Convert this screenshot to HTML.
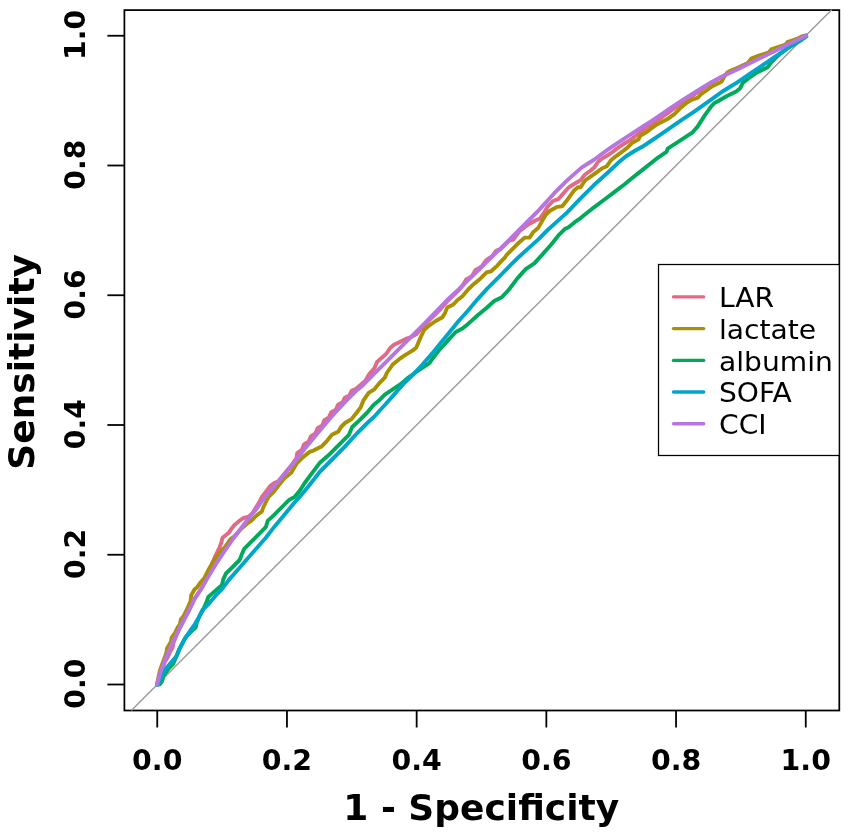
<!DOCTYPE html>
<html><head><meta charset="utf-8"><title>ROC curves</title>
<style>
html,body{margin:0;padding:0;background:#fff;}
body{width:851px;height:839px;overflow:hidden;}
svg{display:block;}
text{font-family:"DejaVu Sans","Liberation Sans",sans-serif;fill:#000;}
.b{font-weight:bold;}
</style></head><body>
<svg width="851" height="839" viewBox="0 0 851 839">
<rect x="0" y="0" width="851" height="839" fill="#fff"/>
<rect x="124.4" y="10.1" width="714.9" height="700.4" fill="none" stroke="#000" stroke-width="1.75"/>
<line x1="131.31" y1="710.45" x2="831.69" y2="9.80" stroke="#9a9a9a" stroke-width="1.4"/>
<polyline points="157.1,684.4 160.8,672.5 164.8,662.0 167.8,657.0 170.5,651.0 172.6,647.5 173.2,644.0 174.5,640.0 178.6,630.5 183.4,621.0 189.0,610.5 194.6,599.0 201.3,589.0 205.0,582.0 209.0,573.0 212.0,563.9 214.7,557.4 219.3,548.2 221.2,542.9 222.5,537.7 229.1,532.4 231.1,529.2 234.3,525.2 239.6,520.6 243.5,518.0 248.8,516.7 252.7,512.8 256.0,507.5 259.2,502.3 261.9,497.0 265.8,491.8 269.7,486.6 273.7,483.3 278.1,481.4 291.2,465.6 296.5,458.2 297.2,453.2 301.8,449.9 304.0,444.5 308.6,441.6 310.8,436.4 315.4,433.5 317.6,428.2 322.2,425.4 324.4,420.1 329.0,417.3 331.2,412.3 335.8,409.8 338.0,404.8 342.6,402.3 344.8,397.7 349.4,395.4 351.6,390.8 356.2,388.7 359.9,385.5 365.2,380.9 369.1,374.3 374.3,368.4 377.0,361.9 380.9,358.6 386.1,354.0 390.1,348.1 394.0,344.8 399.2,342.2 405.8,338.9 411.0,337.0 416.3,334.3 426.8,322.5 440.5,309.0 449.1,299.3 458.6,290.3 463.0,285.0 466.0,279.6 468.5,278.3 472.0,275.9 475.5,270.0 478.0,268.8 482.0,266.0 486.0,260.3 488.0,259.0 492.0,256.5 496.0,251.0 498.0,249.9 500.0,249.5 509.5,240.5 513.3,239.6 519.1,231.5 528.6,224.3 535.3,220.5 540.0,218.6 543.9,212.9 547.8,206.3 553.0,201.0 558.3,199.1 563.5,193.2 568.8,187.3 574.0,184.0 580.6,180.1 585.0,174.5 590.7,170.5 594.5,167.2 598.3,161.5 601.2,159.1 606.9,155.8 612.6,151.9 617.4,148.1 623.1,144.3 627.9,141.5 632.7,138.1 636.5,135.3 642.2,130.5 651.7,124.3 661.3,117.6 674.1,108.3 683.6,102.0 693.1,95.5 702.7,88.6 712.2,82.2 721.7,76.9 731.3,71.4 736.2,68.8 743.0,65.2 749.3,62.6 756.0,59.2 762.4,56.6 775.6,50.4 788.7,43.6 797.0,39.2 801.8,37.2 805.9,35.6" fill="none" stroke="#E16A86" stroke-width="3.9" stroke-linejoin="round" stroke-linecap="round"/>
<polyline points="157.0,684.3 159.8,671.0 162.4,663.4 166.4,652.9 167.0,648.5 171.1,641.5 171.6,637.6 175.1,632.9 177.8,627.2 179.9,624.3 180.8,619.5 183.8,615.7 186.7,610.0 190.6,601.0 191.3,595.1 194.6,589.2 197.2,587.2 200.2,582.8 204.2,578.3 208.1,570.5 213.4,561.3 219.9,552.1 225.2,546.9 230.4,539.0 234.3,536.4 241.0,529.0 247.4,523.3 251.4,520.6 256.6,515.4 261.9,511.5 263.2,507.5 268.4,497.0 273.7,491.8 278.1,486.0 284.7,478.1 291.2,472.8 296.5,463.7 303.0,457.1 309.6,451.9 313.5,450.6 321.4,446.6 326.6,441.4 331.9,434.8 338.4,431.5 341.0,427.0 345.0,423.0 351.5,419.1 356.8,412.5 360.7,407.3 363.3,400.7 368.6,392.9 374.3,389.4 379.6,382.8 384.8,377.6 386.8,373.0 392.7,364.5 399.2,359.2 405.8,354.7 412.4,350.7 416.3,347.4 420.2,338.3 424.2,329.7 430.0,324.8 435.7,321.0 442.4,317.2 445.3,312.4 447.2,307.6 452.9,304.8 457.6,300.0 462.4,296.2 468.1,289.5 472.9,284.8 480.3,278.7 486.9,272.1 490.8,271.5 497.4,265.6 500.0,262.5 504.8,257.7 506.7,254.8 512.4,249.1 519.1,242.4 524.8,237.6 529.6,237.6 533.4,231.9 538.1,228.1 541.9,221.4 545.8,214.8 549.6,211.0 557.0,206.9 562.2,206.3 567.4,199.7 574.0,190.6 577.9,187.3 580.6,187.3 585.0,180.5 594.5,173.9 602.2,168.2 606.9,166.2 610.7,160.5 616.5,155.8 623.1,151.0 627.9,147.2 632.7,142.4 638.4,139.6 640.3,135.7 647.0,131.9 651.7,128.1 655.0,125.6 660.7,122.4 667.4,119.1 674.1,114.3 679.8,108.6 686.5,102.9 691.2,100.0 697.9,97.7 700.8,94.3 706.5,90.5 712.2,86.2 717.9,83.4 721.7,81.4 724.0,77.0 727.4,72.4 731.0,70.6 736.0,68.6 742.0,66.0 747.4,63.6 751.2,58.6 758.8,55.6 768.4,52.7 771.2,49.4 777.9,47.2 785.5,44.6 787.4,42.2 797.0,38.9 801.7,36.5 805.9,35.4" fill="none" stroke="#AA9000" stroke-width="3.9" stroke-linejoin="round" stroke-linecap="round"/>
<polyline points="157.3,684.5 159.8,684.3 161.9,681.5 163.8,675.3 168.6,668.6 173.3,663.8 175.7,658.1 179.0,649.5 185.7,637.2 191.4,631.4 195.7,627.6 196.7,622.8 200.0,615.2 203.0,610.0 206.4,602.3 208.3,597.0 213.5,592.4 218.8,587.8 221.9,585.2 223.2,579.6 225.8,573.7 231.7,567.8 239.6,560.0 242.2,553.4 244.2,548.8 251.4,541.6 257.9,535.1 265.8,527.2 267.8,520.6 273.7,515.4 281.5,507.5 289.4,499.7 294.6,497.0 299.9,490.5 304.3,483.5 312.2,472.8 320.1,462.4 327.9,455.8 338.4,445.3 348.9,434.8 352.2,427.0 359.4,420.4 367.3,412.5 373.5,405.0 379.6,399.9 384.8,394.6 392.7,389.4 400.6,384.2 408.4,377.6 413.7,373.7 421.5,368.4 429.4,363.2 432.9,358.2 439.5,349.6 449.1,339.1 455.7,332.0 462.4,328.6 468.1,323.9 477.7,315.3 486.5,308.0 494.2,301.0 501.8,297.2 508.6,290.0 517.2,278.6 525.7,269.1 534.3,263.4 542.9,253.9 551.5,244.3 558.2,235.7 564.8,229.1 568.6,227.2 574.4,222.4 580.6,218.1 593.7,207.6 604.2,199.7 614.6,191.9 625.0,184.0 629.7,180.0 642.8,169.6 655.9,159.2 666.4,151.9 667.7,148.7 680.8,140.1 692.6,132.3 697.8,126.4 704.4,115.9 711.0,106.7 714.5,103.0 717.9,101.3 727.0,96.0 736.2,91.5 740.2,88.2 742.8,82.9 749.3,77.7 755.9,73.1 765.1,68.5 767.7,67.2 771.6,62.0 778.2,55.4 788.7,47.5 801.8,39.7 806.4,36.4" fill="none" stroke="#00AA5A" stroke-width="3.9" stroke-linejoin="round" stroke-linecap="round"/>
<polyline points="157.6,684.8 162.4,674.8 166.2,668.2 171.9,661.5 176.8,655.8 180.0,648.1 184.4,639.6 190.0,631.0 194.8,624.3 198.6,617.6 202.4,610.0 207.7,604.9 215.6,595.7 221.2,590.0 229.1,579.6 238.3,569.2 247.4,558.7 256.6,548.2 265.8,537.7 275.0,525.9 284.2,514.9 293.3,504.1 303.0,493.0 310.9,483.3 320.1,471.5 330.6,461.0 343.7,447.9 356.8,433.5 367.3,423.0 375.0,415.8 384.8,405.0 394.0,394.6 403.2,384.2 413.1,374.6 422.7,364.2 432.2,353.4 441.7,341.6 451.3,330.0 458.6,321.0 468.1,310.5 477.7,299.1 487.2,288.6 500.0,275.8 509.5,266.2 519.1,256.7 528.6,248.1 538.1,239.6 547.7,230.0 557.2,221.4 566.7,212.9 580.6,198.4 593.7,185.3 606.8,173.5 617.9,163.1 625.7,156.5 636.2,150.0 642.2,146.8 651.7,140.5 664.5,131.8 674.1,125.2 683.6,118.6 693.1,112.3 702.7,105.6 712.2,98.9 721.7,92.0 731.3,86.0 736.2,83.1 749.3,74.2 762.4,65.3 775.6,56.4 788.7,47.5 801.8,38.7 805.9,36.0" fill="none" stroke="#00A6CA" stroke-width="3.9" stroke-linejoin="round" stroke-linecap="round"/>
<polyline points="157.1,684.4 160.5,672.0 164.3,661.5 169.1,650.0 173.8,639.6 178.6,630.0 183.4,620.5 189.1,610.0 194.6,598.4 201.3,588.5 208.1,577.0 216.0,563.9 223.8,552.1 233.0,539.0 240.9,528.5 248.8,518.0 256.6,508.8 261.9,501.0 268.4,493.1 275.0,485.2 278.1,482.0 291.2,466.3 304.3,449.2 317.4,433.5 330.6,417.8 343.7,403.4 356.8,390.2 361.2,386.8 374.3,373.7 387.4,360.6 400.6,347.4 413.7,334.3 426.8,321.2 439.7,307.8 449.1,298.1 458.6,289.5 468.1,280.0 479.0,269.5 492.1,256.4 500.0,249.1 509.5,239.6 519.1,230.0 528.6,220.5 538.1,211.0 541.2,207.6 554.3,193.2 567.4,180.1 581.5,167.6 593.7,160.0 606.8,150.4 613.6,145.7 623.1,139.4 632.7,133.2 642.2,127.0 651.7,120.8 661.3,114.4 674.1,105.6 683.6,99.4 693.1,93.5 702.7,87.4 712.2,81.7 721.7,76.7 731.3,72.2 736.2,69.9 749.3,63.5 762.4,57.0 775.6,50.6 788.7,44.1 801.8,37.7 805.9,35.7" fill="none" stroke="#B675E0" stroke-width="3.9" stroke-linejoin="round" stroke-linecap="round"/>
<line x1="157.25" y1="710.5" x2="157.25" y2="727.5" stroke="#000" stroke-width="1.8"/>
<line x1="124.4" y1="684.50" x2="107.4" y2="684.50" stroke="#000" stroke-width="1.8"/>
<text class="b" transform="translate(157.25,770.4) scale(1.03,1)" font-size="27.6" text-anchor="middle">0.0</text>
<text class="b" transform="translate(85,683.70) rotate(-90)" font-size="28.2" text-anchor="middle">0.0</text>
<line x1="286.95" y1="710.5" x2="286.95" y2="727.5" stroke="#000" stroke-width="1.8"/>
<line x1="124.4" y1="554.75" x2="107.4" y2="554.75" stroke="#000" stroke-width="1.8"/>
<text class="b" transform="translate(286.95,770.4) scale(1.03,1)" font-size="27.6" text-anchor="middle">0.2</text>
<text class="b" transform="translate(85,553.95) rotate(-90)" font-size="28.2" text-anchor="middle">0.2</text>
<line x1="416.65" y1="710.5" x2="416.65" y2="727.5" stroke="#000" stroke-width="1.8"/>
<line x1="124.4" y1="425.00" x2="107.4" y2="425.00" stroke="#000" stroke-width="1.8"/>
<text class="b" transform="translate(416.65,770.4) scale(1.03,1)" font-size="27.6" text-anchor="middle">0.4</text>
<text class="b" transform="translate(85,424.20) rotate(-90)" font-size="28.2" text-anchor="middle">0.4</text>
<line x1="546.35" y1="710.5" x2="546.35" y2="727.5" stroke="#000" stroke-width="1.8"/>
<line x1="124.4" y1="295.25" x2="107.4" y2="295.25" stroke="#000" stroke-width="1.8"/>
<text class="b" transform="translate(546.35,770.4) scale(1.03,1)" font-size="27.6" text-anchor="middle">0.6</text>
<text class="b" transform="translate(85,294.45) rotate(-90)" font-size="28.2" text-anchor="middle">0.6</text>
<line x1="676.05" y1="710.5" x2="676.05" y2="727.5" stroke="#000" stroke-width="1.8"/>
<line x1="124.4" y1="165.50" x2="107.4" y2="165.50" stroke="#000" stroke-width="1.8"/>
<text class="b" transform="translate(676.05,770.4) scale(1.03,1)" font-size="27.6" text-anchor="middle">0.8</text>
<text class="b" transform="translate(85,164.70) rotate(-90)" font-size="28.2" text-anchor="middle">0.8</text>
<line x1="805.75" y1="710.5" x2="805.75" y2="727.5" stroke="#000" stroke-width="1.8"/>
<line x1="124.4" y1="35.75" x2="107.4" y2="35.75" stroke="#000" stroke-width="1.8"/>
<text class="b" transform="translate(805.75,770.4) scale(1.03,1)" font-size="27.6" text-anchor="middle">1.0</text>
<text class="b" transform="translate(85,34.95) rotate(-90)" font-size="28.2" text-anchor="middle">1.0</text>
<text class="b" x="481.25" y="820" font-size="36" text-anchor="middle">1 - Specificity</text>
<text class="b" transform="translate(34,361.80) rotate(-90)" font-size="36" text-anchor="middle">Sensitivity</text>
<rect x="658.5" y="264.5" width="180.80" height="191" fill="#fff" stroke="#000" stroke-width="1.25"/>
<line x1="673.5" y1="296.9" x2="703.7" y2="296.9" stroke="#E16A86" stroke-width="3.4" stroke-linecap="round"/>
<text transform="translate(719.0,307.1) scale(1.05,1)" font-size="26.8">LAR</text>
<line x1="673.5" y1="328.6" x2="703.7" y2="328.6" stroke="#AA9000" stroke-width="3.4" stroke-linecap="round"/>
<text transform="translate(719.0,338.6) scale(1.05,1)" font-size="26.8">lactate</text>
<line x1="673.5" y1="360.4" x2="703.7" y2="360.4" stroke="#00AA5A" stroke-width="3.4" stroke-linecap="round"/>
<text transform="translate(719.0,370.6) scale(1.05,1)" font-size="26.8">albumin</text>
<line x1="673.5" y1="392.0" x2="703.7" y2="392.0" stroke="#00A6CA" stroke-width="3.4" stroke-linecap="round"/>
<text transform="translate(719.0,402.2) scale(1.05,1)" font-size="26.8">SOFA</text>
<line x1="673.5" y1="423.8" x2="703.7" y2="423.8" stroke="#B675E0" stroke-width="3.4" stroke-linecap="round"/>
<text transform="translate(719.0,434.0) scale(1.05,1)" font-size="26.8">CCI</text>
</svg>
</body></html>
